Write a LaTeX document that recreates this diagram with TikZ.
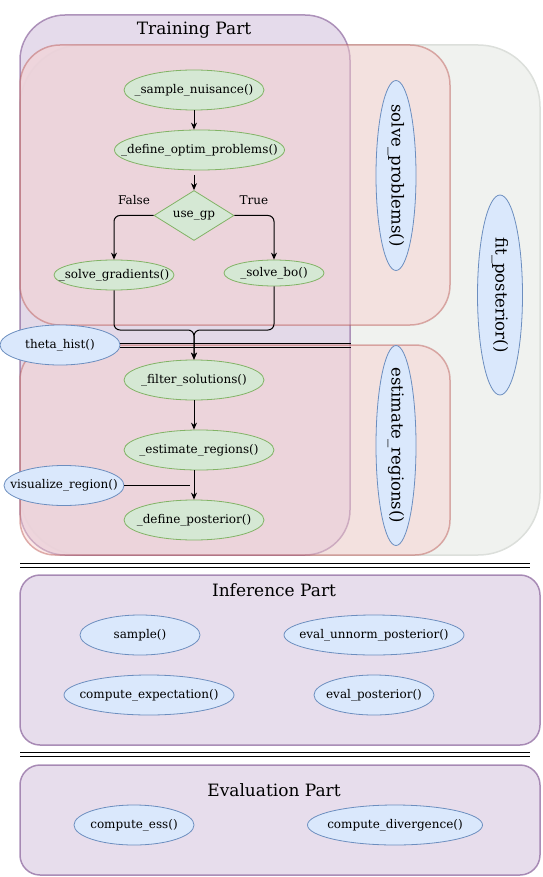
\documentclass[tikz,border=0pt]{standalone}
\usepackage{fontspec}
\setmainfont{DejaVu Serif}
\usetikzlibrary{shapes.geometric,arrows.meta}
\definecolor{pfill}{HTML}{E1D5E7}\definecolor{pdraw}{HTML}{9673A6}
\definecolor{rfill}{HTML}{F8CECC}\definecolor{rdraw}{HTML}{B85450}
\definecolor{gfill}{HTML}{D5E8D4}\definecolor{gdraw}{HTML}{82B366}
\definecolor{bfill}{HTML}{DAE8FC}\definecolor{bdraw}{HTML}{6C8EBF}
\definecolor{grfill}{HTML}{F0F2EF}\definecolor{grdraw}{HTML}{DCDFDB}
\newcommand{\zt}[1]{\makebox[0pt]{#1}}
\newcommand{\vt}[1]{\rotatebox{-90}{\makebox[0pt]{#1}}}
\tikzset{
  x=1pt,y=-1pt,
  nfont/.style={font=\fontsize{12}{14}\selectfont},
  gell/.style={ellipse,draw=gdraw,fill=gfill,line width=0.8pt,inner sep=0,nfont},
  bell/.style={ellipse,draw=bdraw,fill=bfill,line width=0.8pt,inner sep=0,nfont},
  vell/.style={ellipse,draw=bdraw,fill=bfill,line width=0.8pt,inner sep=0,font=\fontsize{16.5}{18}\selectfont},
  arr/.style={draw=black,line width=1pt,-{Stealth[length=7pt,width=6pt]}},
  plain/.style={draw=black,line width=1pt},
  cont/.style={rectangle,inner sep=0,line width=1.5pt},
  title/.style={font=\fontsize{17}{19}\selectfont},
}
\begin{document}
\begin{tikzpicture}
\useasboundingbox (0,0) rectangle (542,877);
% containers
\node[cont,draw=grdraw,fill=grfill,rounded corners=62pt,minimum width=520pt,minimum height=510pt] (fit) at (280,300) {};
\node[cont,draw=pdraw,draw opacity=0.75,fill=pfill,fill opacity=0.85,rounded corners=45pt,minimum width=330pt,minimum height=540pt] (train) at (185,285) {};
\node[cont,draw=rdraw,draw opacity=0.45,fill=rfill,fill opacity=0.45,rounded corners=40pt,minimum width=430pt,minimum height=280pt] (solvebox) at (235,185) {};
\node[cont,draw=rdraw,draw opacity=0.45,fill=rfill,fill opacity=0.45,rounded corners=35pt,minimum width=430pt,minimum height=210pt] (estbox) at (235,450) {};
\node[title] (ttrain) at (194,30) {Training Part};
% vertical ellipses
\node[vell,minimum width=40pt,minimum height=190pt] (solvep) at (396,175.5) {\vt{solve\_problems()}};
\node[vell,minimum width=45pt,minimum height=200pt] (fitp) at (500,295) {\vt{fit\_posterior()}};
\node[vell,minimum width=40pt,minimum height=200pt] (estr) at (396,445.5) {\vt{estimate\_regions()}};
% flow
\node[gell,minimum width=140pt,minimum height=40pt] (samp) at (194,90) {\zt{\_sample\_nuisance()}};
\node[gell,minimum width=170pt,minimum height=40pt] (defopt) at (199.5,150) {\zt{\_define\_optim\_problems()}};
\node[diamond,draw=gdraw,fill=gfill,line width=0.8pt,inner sep=0,aspect=1.6,minimum width=80pt,minimum height=50pt,nfont] (usegp) at (194,215.5) {\zt{use\_gp}};
\node[gell,minimum width=120pt,minimum height=30pt] (sgrad) at (114,275) {\zt{\_solve\_gradients()}};
\node[gell,minimum width=100pt,minimum height=26pt] (sbo) at (274,273) {\zt{\_solve\_bo()}};
\node[gell,minimum width=140pt,minimum height=40pt] (filt) at (194,380) {\zt{\_filter\_solutions()}};
\node[gell,minimum width=150pt,minimum height=40pt] (estim) at (199,450) {\zt{\_estimate\_regions()}};
\node[gell,minimum width=140pt,minimum height=40pt] (defpost) at (194,520) {\zt{\_define\_posterior()}};
\node[bell,minimum width=120pt,minimum height=40pt] (theta) at (60,345) {\zt{theta\_hist()}};
\node[bell,minimum width=120pt,minimum height=40pt] (vis) at (64,485.5) {\zt{visualize\_region()}};
\node[nfont] (lfalse) at (134,200) {False};
\node[nfont] (ltrue) at (254,200) {True};
\coordinate (m) at (194,330);
\coordinate (vend) at (190,485.5);
\coordinate (d1) at (194,175);
\coordinate (e1) at (194,470);
\draw[arr] (samp.south) -- (samp.south |- defopt.north);
\draw[arr] (d1) -- (usegp.north);
\draw[arr,rounded corners=6pt] (usegp.west) -| (sgrad.north);
\draw[arr,rounded corners=6pt] (usegp.east) -| (sbo.north);
\draw[arr,rounded corners=6pt] (sgrad.south) |- (m) -- (filt.north);
\draw[arr,rounded corners=6pt] (sbo.south) |- (m) -- (filt.north);
\draw[arr] (filt.south) -- (filt.south |- estim.north);
\draw[arr] (e1) -- (defpost.north);
\draw[plain] (vis.east) -- (vend);
\draw[plain] ([yshift=2pt]theta.east) -- ([yshift=2pt]theta.east -| train.east);
\draw[plain] ([yshift=-2pt]theta.east) -- ([yshift=-2pt]theta.east -| train.east);
% separators
\coordinate (s1a) at (20,563.5); \coordinate (s1b) at (530,563.5);
\coordinate (s1c) at (20,567.5); \coordinate (s1d) at (530,567.5);
\draw[plain] (s1a) -- (s1b); \draw[plain] (s1c) -- (s1d);
\coordinate (s2a) at (20,752.5); \coordinate (s2b) at (530,752.5);
\coordinate (s2c) at (20,756.5); \coordinate (s2d) at (530,756.5);
\draw[plain] (s2a) -- (s2b); \draw[plain] (s2c) -- (s2d);
% inference
\node[cont,draw=pdraw,draw opacity=0.8,fill=pfill,fill opacity=0.8,rounded corners=20pt,minimum width=520pt,minimum height=170pt] (inf) at (280,660) {};
\node[title] (tinf) at (274,590) {Inference Part};
\node[bell,minimum width=120pt,minimum height=40pt] (sample) at (140,635) {\zt{sample()}};
\node[bell,minimum width=180pt,minimum height=40pt] (eup) at (374,635) {\zt{eval\_unnorm\_posterior()}};
\node[bell,minimum width=170pt,minimum height=40pt] (cexp) at (149,695) {\zt{compute\_expectation()}};
\node[bell,minimum width=120pt,minimum height=40pt] (ep) at (374,695) {\zt{eval\_posterior()}};
% evaluation
\node[cont,draw=pdraw,draw opacity=0.8,fill=pfill,fill opacity=0.8,rounded corners=20pt,minimum width=520pt,minimum height=110pt] (evalb) at (280,820) {};
\node[title] (teval) at (274,790) {Evaluation Part};
\node[bell,minimum width=120pt,minimum height=40pt] (cess) at (134,825) {\zt{compute\_ess()}};
\node[bell,minimum width=175pt,minimum height=40pt] (cdiv) at (395,825) {\zt{compute\_divergence()}};
\end{tikzpicture}
\end{document}
